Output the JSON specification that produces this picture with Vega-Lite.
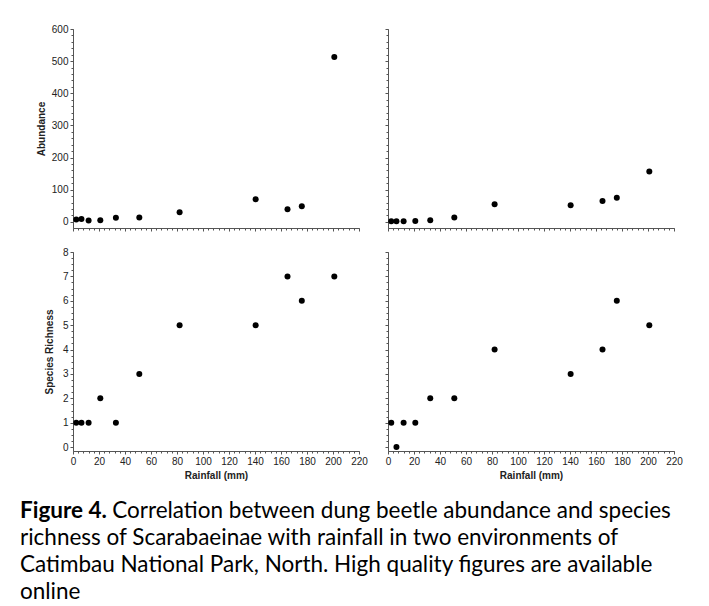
{
  "$schema": "https://vega.github.io/schema/vega-lite/v6.json",
  "background": "white",
  "padding": {"left": 20, "top": 24, "right": 0, "bottom": 0},
  "datasets": {
    "beetles": [
      {"env": "A", "rainfall": 2.5, "abundance": 7.5, "richness": 1},
      {"env": "A", "rainfall": 6.5, "abundance": 9, "richness": 1},
      {"env": "A", "rainfall": 12, "abundance": 4, "richness": 1},
      {"env": "A", "rainfall": 21, "abundance": 5, "richness": 2},
      {"env": "A", "rainfall": 33, "abundance": 12.5, "richness": 1},
      {"env": "A", "rainfall": 51, "abundance": 13.5, "richness": 3},
      {"env": "A", "rainfall": 82, "abundance": 30, "richness": 5},
      {"env": "A", "rainfall": 140.5, "abundance": 70.5, "richness": 5},
      {"env": "A", "rainfall": 165, "abundance": 39.5, "richness": 7},
      {"env": "A", "rainfall": 176, "abundance": 49, "richness": 6},
      {"env": "A", "rainfall": 201, "abundance": 513, "richness": 7},
      {"env": "B", "rainfall": 2.5, "abundance": 2, "richness": 1},
      {"env": "B", "rainfall": 6.5, "abundance": 2, "richness": 0},
      {"env": "B", "rainfall": 12, "abundance": 2, "richness": 1},
      {"env": "B", "rainfall": 21, "abundance": 3, "richness": 1},
      {"env": "B", "rainfall": 32.5, "abundance": 5, "richness": 2},
      {"env": "B", "rainfall": 51, "abundance": 13.5, "richness": 2},
      {"env": "B", "rainfall": 82, "abundance": 55, "richness": 4},
      {"env": "B", "rainfall": 140.5, "abundance": 52, "richness": 3},
      {"env": "B", "rainfall": 165, "abundance": 65, "richness": 4},
      {"env": "B", "rainfall": 176, "abundance": 75, "richness": 6},
      {"env": "B", "rainfall": 201, "abundance": 157, "richness": 5}
    ]
  },
  "data": {"name": "beetles"},
  "title": {
    "text": "Figure 4.",
    "subtitle": [
      "\u200b\u00a0\u00a0\u00a0\u00a0\u00a0\u00a0\u00a0\u00a0\u00a0\u00a0\u00a0\u00a0\u00a0\u00a0\u00a0\u00a0Correlation between dung beetle abundance and species",
      "richness of Scarabaeinae with rainfall in two environments of",
      "Catimbau National Park, North. High quality figures are available",
      "online"
    ],
    "orient": "bottom",
    "anchor": "start",
    "frame": "bounds",
    "font": "Lato",
    "fontSize": 22.5,
    "fontWeight": "bold",
    "color": "black",
    "subtitleFont": "Lato",
    "subtitleFontSize": 22.5,
    "subtitleFontWeight": "normal",
    "subtitleColor": "black",
    "subtitleLineHeight": 27,
    "subtitlePadding": -22.5,
    "offset": 20,
    "dx": -16
  },
  "columns": 2,
  "bounds": "flush",
  "spacing": {"row": 24, "column": 29},
  "concat": [
    {
      "width": 286, "height": 199,
      "transform": [{"filter": "datum.env === 'A'"}],
      "layer": [
        {
          "mark": {"type": "point", "shape": "circle", "filled": true, "color": "black", "size": 36, "opacity": 1},
          "encoding": {
            "x": {"field": "rainfall", "type": "quantitative", "scale": {"domain": [0, 220], "nice": false, "zero": false},
                  "axis": {"orient": "bottom", "values": [0,20,40,60,80,100,120,140,160,180,200,220], "labels": false, "title": null}},
            "y": {"field": "abundance", "type": "quantitative", "scale": {"domain": [-19, 600], "nice": false, "zero": false},
                  "axis": {"orient": "left", "values": [0,100,200,300,400,500,600], "title": "Abundance", "titleX": -27}}
          }
        },
        {
          "mark": {"type": "point", "opacity": 0},
          "encoding": {
            "x": {"field": "rainfall", "type": "quantitative", "axis": {"orient": "bottom", "values": [0,4,8,12,16,20,24,28,32,36,40,44,48,52,56,60,64,68,72,76,80,84,88,92,96,100,104,108,112,116,120,124,128,132,136,140,144,148,152,156,160,164,168,172,176,180,184,188,192,196,200,204,208,212,216,220], "labels": false, "domain": false, "title": null, "tickSize": 2}},
            "y": {"field": "abundance", "type": "quantitative", "axis": {"orient": "left", "values": [0,20,40,60,80,100,120,140,160,180,200,220,240,260,280,300,320,340,360,380,400,420,440,460,480,500,520,540,560,580,600], "labels": false, "domain": false, "title": null, "tickSize": 2}}
          }
        }
      ],
      "resolve": {"axis": {"x": "independent", "y": "independent"}}
    },
    {
      "width": 286, "height": 199,
      "transform": [{"filter": "datum.env === 'B'"}],
      "layer": [
        {
          "mark": {"type": "point", "shape": "circle", "filled": true, "color": "black", "size": 36, "opacity": 1},
          "encoding": {
            "x": {"field": "rainfall", "type": "quantitative", "scale": {"domain": [0, 220], "nice": false, "zero": false},
                  "axis": {"orient": "bottom", "values": [0,20,40,60,80,100,120,140,160,180,200,220], "labels": false, "title": null}},
            "y": {"field": "abundance", "type": "quantitative", "scale": {"domain": [-19, 600], "nice": false, "zero": false},
                  "axis": {"orient": "left", "values": [0,100,200,300,400,500,600], "labels": false, "title": null}}
          }
        },
        {
          "mark": {"type": "point", "opacity": 0},
          "encoding": {
            "x": {"field": "rainfall", "type": "quantitative", "axis": {"orient": "bottom", "values": [0,4,8,12,16,20,24,28,32,36,40,44,48,52,56,60,64,68,72,76,80,84,88,92,96,100,104,108,112,116,120,124,128,132,136,140,144,148,152,156,160,164,168,172,176,180,184,188,192,196,200,204,208,212,216,220], "labels": false, "domain": false, "title": null, "tickSize": 2}},
            "y": {"field": "abundance", "type": "quantitative", "axis": {"orient": "left", "values": [0,20,40,60,80,100,120,140,160,180,200,220,240,260,280,300,320,340,360,380,400,420,440,460,480,500,520,540,560,580,600], "labels": false, "domain": false, "title": null, "tickSize": 2}}
          }
        }
      ],
      "resolve": {"axis": {"x": "independent", "y": "independent"}}
    },
    {
      "width": 286, "height": 199,
      "transform": [{"filter": "datum.env === 'A'"}],
      "layer": [
        {
          "mark": {"type": "point", "shape": "circle", "filled": true, "color": "black", "size": 36, "opacity": 1},
          "encoding": {
            "x": {"field": "rainfall", "type": "quantitative", "scale": {"domain": [0, 220], "nice": false, "zero": false},
                  "axis": {"orient": "bottom", "values": [0,20,40,60,80,100,120,140,160,180,200,220], "title": "Rainfall (mm)"}},
            "y": {"field": "richness", "type": "quantitative", "scale": {"domain": [-0.16, 8], "nice": false, "zero": false},
                  "axis": {"orient": "left", "values": [0,1,2,3,4,5,6,7,8], "title": "Species Richness", "titleX": -19}}
          }
        },
        {
          "mark": {"type": "point", "opacity": 0},
          "encoding": {
            "x": {"field": "rainfall", "type": "quantitative", "axis": {"orient": "bottom", "values": [0,4,8,12,16,20,24,28,32,36,40,44,48,52,56,60,64,68,72,76,80,84,88,92,96,100,104,108,112,116,120,124,128,132,136,140,144,148,152,156,160,164,168,172,176,180,184,188,192,196,200,204,208,212,216,220], "labels": false, "domain": false, "title": null, "tickSize": 2}},
            "y": {"field": "richness", "type": "quantitative", "axis": {"orient": "left", "values": [0,0.25,0.5,0.75,1,1.25,1.5,1.75,2,2.25,2.5,2.75,3,3.25,3.5,3.75,4,4.25,4.5,4.75,5,5.25,5.5,5.75,6,6.25,6.5,6.75,7,7.25,7.5,7.75,8], "labels": false, "domain": false, "title": null, "tickSize": 2}}
          }
        }
      ],
      "resolve": {"axis": {"x": "independent", "y": "independent"}}
    },
    {
      "width": 286, "height": 199,
      "transform": [{"filter": "datum.env === 'B'"}],
      "layer": [
        {
          "mark": {"type": "point", "shape": "circle", "filled": true, "color": "black", "size": 36, "opacity": 1},
          "encoding": {
            "x": {"field": "rainfall", "type": "quantitative", "scale": {"domain": [0, 220], "nice": false, "zero": false},
                  "axis": {"orient": "bottom", "values": [0,20,40,60,80,100,120,140,160,180,200,220], "title": "Rainfall (mm)"}},
            "y": {"field": "richness", "type": "quantitative", "scale": {"domain": [-0.16, 8], "nice": false, "zero": false},
                  "axis": {"orient": "left", "values": [0,1,2,3,4,5,6,7,8], "labels": false, "title": null}}
          }
        },
        {
          "mark": {"type": "point", "opacity": 0},
          "encoding": {
            "x": {"field": "rainfall", "type": "quantitative", "axis": {"orient": "bottom", "values": [0,4,8,12,16,20,24,28,32,36,40,44,48,52,56,60,64,68,72,76,80,84,88,92,96,100,104,108,112,116,120,124,128,132,136,140,144,148,152,156,160,164,168,172,176,180,184,188,192,196,200,204,208,212,216,220], "labels": false, "domain": false, "title": null, "tickSize": 2}},
            "y": {"field": "richness", "type": "quantitative", "axis": {"orient": "left", "values": [0,0.25,0.5,0.75,1,1.25,1.5,1.75,2,2.25,2.5,2.75,3,3.25,3.5,3.75,4,4.25,4.5,4.75,5,5.25,5.5,5.75,6,6.25,6.5,6.75,7,7.25,7.5,7.75,8], "labels": false, "domain": false, "title": null, "tickSize": 2}}
          }
        }
      ],
      "resolve": {"axis": {"x": "independent", "y": "independent"}}
    }
  ],
  "config": {
    "view": {"stroke": null},
    "axis": {
      "grid": false,
      "domainColor": "#555",
      "tickColor": "#555",
      "labelFont": "Liberation Sans",
      "labelFontSize": 10,
      "labelColor": "#222",
      "titleFont": "Liberation Sans",
      "titleFontSize": 10,
      "titleFontWeight": "bold",
      "titleColor": "#222",
      "labelFlush": false,
      "labelOverlap": false,
      "tickSize": 3,
      "labelPadding": 2,
      "titlePadding": 4,
      "minExtent": 0
    }
  }
}
